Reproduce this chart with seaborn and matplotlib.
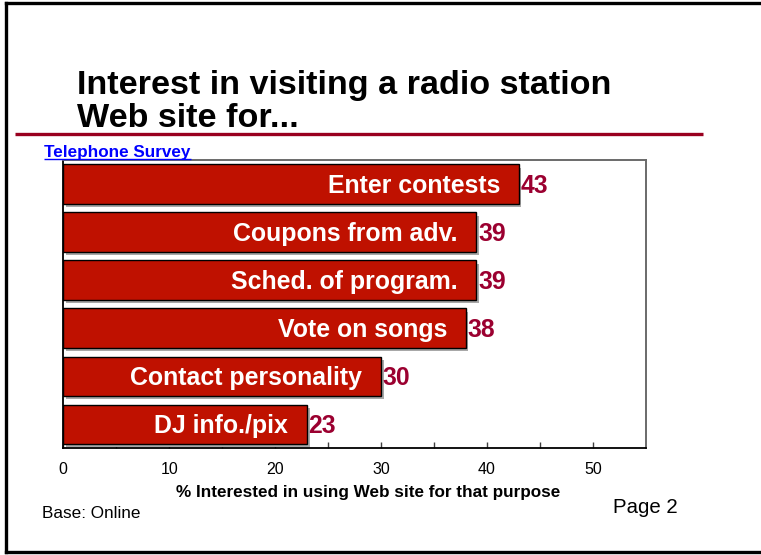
import matplotlib
matplotlib.use("Agg")
import matplotlib.pyplot as plt
import matplotlib.patheffects as pe
from matplotlib.lines import Line2D
from matplotlib.ticker import FixedLocator
import pandas as pd
import seaborn as sns

# Survey data
purposes = ["Enter contests", "Coupons from adv.", "Sched. of program.",
            "Vote on songs", "Contact personality", "DJ info./pix"]
interest = [43, 39, 39, 38, 30, 23]
x_ticks = [0, 10, 20, 30, 40, 50]
x_minor_ticks = [5, 15, 25, 35, 45]

title_lines = ["Interest in visiting a radio station", "Web site for..."]
survey_label = "Telephone Survey"
x_label = "% Interested in using Web site for that purpose"
base_note = "Base: Online"
page_note = "Page 2"

BAR_RED = "#BF1100"
VALUE_RED = "#9B0030"
RULE_RED = "#99001F"

sns.set_theme(style="white")
plt.rcParams["font.family"] = ["Liberation Sans", "DejaVu Sans"]

W, H = 761, 555
fig = plt.figure(figsize=(W / 100, H / 100), dpi=100)


def fx(px):
    return px / W


def fy(py):
    return 1 - py / H


ax_left, ax_right, ax_top, ax_bottom = 63.3, 645.7, 160, 448.3
ax = fig.add_axes([fx(ax_left), fy(ax_bottom),
                   (ax_right - ax_left) / W, (ax_bottom - ax_top) / H])

df = pd.DataFrame({"purpose": purposes, "interest": interest})
sns.barplot(data=df, x="interest", y="purpose", order=purposes, orient="h",
            color=BAR_RED, saturation=1, width=0.82, edgecolor="black",
            linewidth=1.0, ax=ax)

# Drop shadow under every bar
for patch in ax.patches:
    patch.set_path_effects([
        pe.SimplePatchShadow(offset=(2, -2.5), shadow_rgbFace="#a8a8a8", alpha=1.0),
        pe.Normal(),
    ])

ax.set_xlim(0, 55)
ax.set_ylim(5.5, -0.5)
ax.xaxis.set_major_locator(FixedLocator(x_ticks))
ax.xaxis.set_minor_locator(FixedLocator(x_minor_ticks))
ax.tick_params(axis="x", which="both", direction="in", length=4, width=1,
               color="#404040", bottom=True, top=False, labelsize=11.5,
               pad=10, labelcolor="black")
ax.tick_params(axis="y", left=False, labelleft=False)
ax.set_ylabel("")
ax.set_xlabel("")
ax.set_facecolor("white")

for side in ("left", "bottom"):
    ax.spines[side].set_color("black")
    ax.spines[side].set_linewidth(1.3)
for side in ("top", "right"):
    ax.spines[side].set_color("#6a6a6a")
    ax.spines[side].set_linewidth(1.4)
    ax.spines[side].set_visible(True)

# Category names inside the bars and values just past their ends
for i, (name, val) in enumerate(zip(purposes, interest)):
    ax.annotate(name, xy=(val, i), xytext=(-13.5, -6.4),
                textcoords="offset points", ha="right", va="baseline",
                color="white", fontsize=17.9, fontweight="bold")
    ax.annotate(f"{val}", xy=(val, i), xytext=(1.2, -6.3),
                textcoords="offset points", ha="left", va="baseline",
                color=VALUE_RED, fontsize=17.8, fontweight="bold")

# Slide frame: left, top and bottom edges (right edge runs off the page)
frame_kw = dict(transform=fig.transFigure, color="black", linewidth=2.4,
                solid_capstyle="projecting")
fig.add_artist(Line2D([fx(5.5), fx(5.5)], [fy(3), fy(552)], **frame_kw))
fig.add_artist(Line2D([fx(5.5), 1.0], [fy(3), fy(3)], **frame_kw))
fig.add_artist(Line2D([fx(5.5), 1.0], [fy(552), fy(552)], **frame_kw))

# Title
fig.text(fx(77), fy(94.3), title_lines[0], ha="left", va="baseline",
         fontsize=24.6, fontweight="bold", color="black")
fig.text(fx(77), fy(126.7), title_lines[1], ha="left", va="baseline",
         fontsize=24.6, fontweight="bold", color="black")

# Red rule under the title
fig.add_artist(Line2D([fx(15), fx(703)], [fy(133.5), fy(133.5)],
                      transform=fig.transFigure, color=RULE_RED,
                      linewidth=2.4, solid_capstyle="butt"))

# Survey label, underlined
survey = fig.text(fx(44.3), fy(156.7), survey_label, ha="left", va="baseline",
                  fontsize=12.3, fontweight="bold", color="#0000FF")
fig.canvas.draw()
bb = survey.get_window_extent()
fig.add_artist(Line2D([bb.x0 / W, bb.x1 / W], [fy(159.3), fy(159.3)],
                      transform=fig.transFigure, color="#0000FF",
                      linewidth=1.0, solid_capstyle="butt"))

# Axis title and footer notes
fig.text(fx(368.5), fy(497.5), x_label, ha="center", va="baseline",
         fontsize=12.3, fontweight="bold", color="black")
fig.text(fx(41.7), fy(517.7), base_note, ha="left", va="baseline",
         fontsize=12.3, color="black")
fig.text(fx(612.7), fy(512.7), page_note, ha="left", va="baseline",
         fontsize=14.7, color="black")

fig.savefig("out.png", dpi=100, facecolor="white")
